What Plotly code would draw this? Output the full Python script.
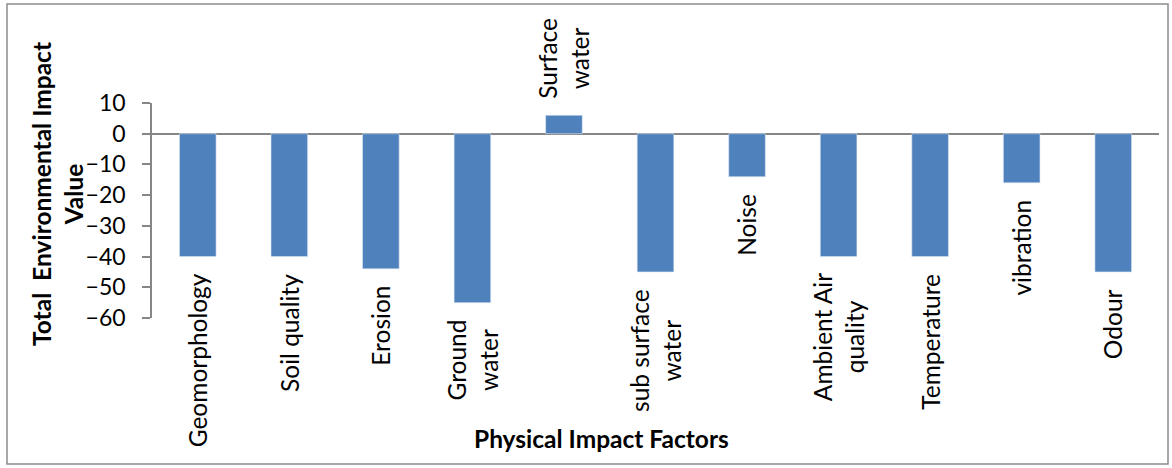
import plotly.graph_objects as go

# Physical impact factors and their total environmental impact values
factors = [
    "Geomorphology", "Soil quality", "Erosion", "Ground<br>water", "Surface<br>water",
    "sub surface<br>water", "Noise", "Ambient Air<br>quality", "Temperature",
    "vibration", "Odour",
]
impact_values = [-40, -40, -44, -55, 6, -45, -14, -40, -40, -16, -45]
y_ticks = [10, 0, -10, -20, -30, -40, -50, -60]

W, H = 1172, 468
ML, MR, MT, MB = 152, 13, 103, 150
PW, PH = W - ML - MR, H - MT - MB

FONT = "Lato"
BAR_COLOR = "#4F81BD"
AXIS_GRAY = "#868686"


def px_x(px):
    return (px - ML) / PW


def px_y(py):
    return (H - MB - py) / PH


positions = list(range(len(factors)))

fig = go.Figure(
    go.Bar(
        x=positions,
        y=impact_values,
        marker=dict(color=BAR_COLOR, line=dict(color="#dce6f2", width=0.6)),
        width=0.4,
        hoverinfo="skip",
    )
)

# category names written along each bar's end
annotations = []
for pos, name, val in zip(positions, factors, impact_values):
    annotations.append(
        dict(
            x=pos, y=val, xref="x", yref="y",
            text=name, showarrow=False, textangle=-90, align="center",
            xanchor="center", yanchor="top" if val < 0 else "bottom",
            yshift=-15 if val < 0 else 15,
            font=dict(family=FONT, size=24.5, color="#000000"),
        )
    )

annotations.append(
    dict(
        x=px_x(57), y=px_y(194), xref="paper", yref="paper",
        text="<b>Total  Environmental Impact<br>Value</b>", showarrow=False,
        textangle=-90, align="center", xanchor="center", yanchor="middle",
        font=dict(family=FONT, size=24.5, color="#000000"),
    )
)
annotations.append(
    dict(
        x=px_x(601), y=px_y(438), xref="paper", yref="paper",
        text="<b>Physical Impact Factors</b>", showarrow=False,
        xanchor="center", yanchor="middle",
        font=dict(family=FONT, size=24.5, color="#000000"),
    )
)

fig.update_layout(
    width=W, height=H,
    margin=dict(l=ML, r=MR, t=MT, b=MB, pad=0),
    paper_bgcolor="#ffffff", plot_bgcolor="#ffffff",
    showlegend=False,
    annotations=annotations,
    shapes=[
        dict(
            type="rect", xref="paper", yref="paper",
            x0=px_x(7), x1=px_x(1168), y0=px_y(464), y1=px_y(4),
            line=dict(color="#8c8c8c", width=1.5), layer="below",
        )
    ],
    xaxis=dict(
        range=[-0.5, len(factors) - 0.5],
        showticklabels=False, showgrid=False, zeroline=False,
        showline=False, ticks="",
    ),
    yaxis=dict(
        range=[-60, 10], tickvals=y_ticks,
        showgrid=False, showline=True, linecolor=AXIS_GRAY, linewidth=1.5,
        ticks="outside", ticklen=8, tickcolor=AXIS_GRAY, tickwidth=1.5,
        ticklabelstandoff=12,
        zeroline=True, zerolinecolor=AXIS_GRAY, zerolinewidth=2,
        tickfont=dict(family=FONT, size=23, color="#000000"),
    ),
)

fig.write_html("out.html")
